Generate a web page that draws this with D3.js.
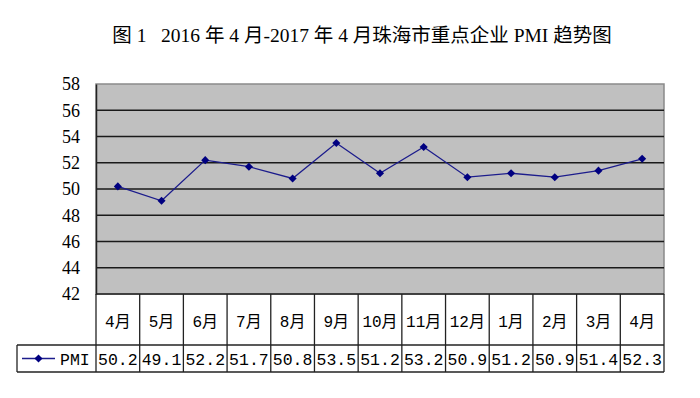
<!DOCTYPE html>
<html>
<head>
<meta charset="utf-8">
<script src="https://cdn.jsdelivr.net/npm/d3@7"></script>
<style>
  body { margin: 0; background: #fff; }
  svg { display: block; }
</style>
</head>
<body>
<div id="chart"></div>
<script>
// data
var months = ["4月", "5月", "6月", "7月", "8月", "9月", "10月", "11月", "12月", "1月", "2月", "3月", "4月"];
var pmi = [50.2, 49.1, 52.2, 51.7, 50.8, 53.5, 51.2, 53.2, 50.9, 51.2, 50.9, 51.4, 52.3];
var yTicks = [42, 44, 46, 48, 50, 52, 54, 56, 58];
var seriesName = "PMI";
var title = "图 1\u00a0\u00a0\u00a02016 年 4 月-2017 年 4 月珠海市重点企业 PMI 趋势图";

var width = 700,
  height = 398;

var plotL = 96, plotR = 664, plotT = 84, plotB = 294;
var headRow = 345, valRow = 372, legLeft = 17;

var svg = d3.select('#chart')
  .append('svg')
  .attr('width', width)
  .attr('height', height)

var x = d3.scaleBand()
  .domain(d3.range(months.length))
  .range([plotL, plotR])

var y = d3.scaleLinear()
  .domain([42, 58])
  .range([plotB, plotT])

var serif = "'Liberation Serif', 'Noto Sans CJK SC', serif";
var mono = "'Liberation Mono', 'Noto Sans CJK SC', monospace";

// title
svg.append('text')
  .attr('x', 362)
  .attr('y', 42)
  .attr('text-anchor', 'middle')
  .style('font-family', serif)
  .style('font-size', '19.5px')
  .text(title)

// plot background
svg.append('rect')
  .attr('x', plotL)
  .attr('y', plotT)
  .attr('width', plotR - plotL)
  .attr('height', plotB - plotT)
  .attr('fill', '#c0c0c0')
  .attr('stroke', '#8a8a8a')
  .attr('stroke-width', 1.5)

// gridlines
svg.append('g')
  .selectAll('line')
  .data(yTicks.slice(1, -1))
  .join('line')
  .attr('x1', plotL)
  .attr('x2', plotR)
  .attr('y1', d => y(d))
  .attr('y2', d => y(d))
  .attr('stroke', '#1a1a1a')
  .attr('stroke-width', 1.5)

// y axis
var yAxis = d3.axisLeft(y)
  .tickValues(yTicks)
  .tickSize(0)
  .tickPadding(16)

var gy = svg.append('g')
  .attr('transform', 'translate(' + plotL + ',0)')
  .call(yAxis)
gy.select('.domain').attr('stroke', '#222').attr('stroke-width', 1.5)
gy.selectAll('text')
  .style('font-family', serif)
  .style('font-size', '18px')
  .attr('fill', '#000')

// line + markers
var line = d3.line()
  .x((d, i) => x(i) + x.bandwidth() / 2)
  .y(d => y(d))

svg.append('path')
  .datum(pmi)
  .attr('d', line)
  .attr('fill', 'none')
  .attr('stroke', '#1c1c8c')
  .attr('stroke-width', 1.3)

var diamond = d3.symbol().type(d3.symbolDiamond2).size(42)

svg.append('g')
  .selectAll('path')
  .data(pmi)
  .join('path')
  .attr('d', diamond)
  .attr('transform', (d, i) => 'translate(' + (x(i) + x.bandwidth() / 2) + ',' + y(d) + ')')
  .attr('fill', '#000080')

// data table
var table = svg.append('g')
  .attr('stroke', '#222')
  .attr('stroke-width', 1.3)

table.selectAll('line.col')
  .data(d3.range(months.length + 1))
  .join('line')
  .attr('class', 'col')
  .attr('x1', i => i < months.length ? x(i) : plotR)
  .attr('x2', i => i < months.length ? x(i) : plotR)
  .attr('y1', plotB)
  .attr('y2', valRow)

table.append('line')
  .attr('x1', legLeft).attr('x2', plotR)
  .attr('y1', headRow).attr('y2', headRow)
table.append('line')
  .attr('x1', legLeft).attr('x2', plotR)
  .attr('y1', valRow).attr('y2', valRow)
table.append('line')
  .attr('x1', legLeft).attr('x2', legLeft)
  .attr('y1', headRow).attr('y2', valRow)
table.append('line')
  .attr('x1', plotL).attr('x2', plotR)
  .attr('y1', plotB).attr('y2', plotB)

svg.append('g')
  .selectAll('text')
  .data(months)
  .join('text')
  .attr('x', (d, i) => x(i) + x.bandwidth() / 2)
  .attr('y', 327)
  .attr('text-anchor', 'middle')
  .style('font-family', mono)
  .style('font-size', '16px')
  .text(d => d)

svg.append('g')
  .selectAll('text')
  .data(pmi)
  .join('text')
  .attr('x', (d, i) => x(i) + x.bandwidth() / 2)
  .attr('y', 365)
  .attr('text-anchor', 'middle')
  .style('font-family', mono)
  .style('font-size', '16.5px')
  .text(d => d3.format('.1f')(d))

// legend cell
var legY = (headRow + valRow) / 2;
svg.append('line')
  .attr('x1', 22).attr('x2', 55)
  .attr('y1', legY).attr('y2', legY)
  .attr('stroke', '#1c1c8c')
  .attr('stroke-width', 1.3)
svg.append('path')
  .attr('d', diamond)
  .attr('transform', 'translate(38.5,' + legY + ')')
  .attr('fill', '#000080')
svg.append('text')
  .attr('x', 60)
  .attr('y', 365)
  .style('font-family', mono)
  .style('font-size', '16.5px')
  .text(seriesName)
</script>
</body>
</html>
